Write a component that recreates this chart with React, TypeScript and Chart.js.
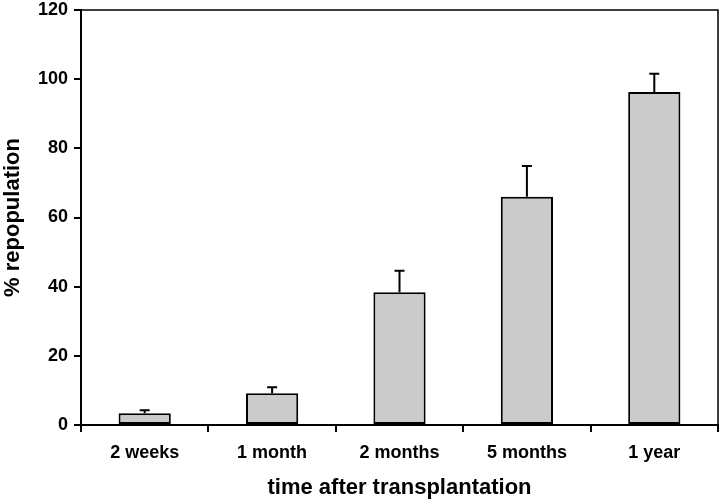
import React, { useEffect, useRef } from "react";
import { Chart, registerables } from "chart.js";

Chart.register(...registerables);

const categories = ["2 weeks", "1 month", "2 months", "5 months", "1 year"];
const repopulation = [3.4, 9.2, 38.4, 66.0, 96.3];
const errorUpper = [0.9, 1.7, 6.2, 8.9, 5.3];
const yTicks = [0, 20, 40, 60, 80, 100, 120];

const FONT = "'Liberation Sans', Arial, sans-serif";

const errorBarPlugin = {
  id: "errorBars",
  afterDatasetsDraw(chart: any) {
    const ctx = chart.ctx;
    const meta = chart.getDatasetMeta(0);
    const y = chart.scales.y;
    ctx.save();
    ctx.strokeStyle = "#000";
    ctx.lineWidth = 2;
    meta.data.forEach((bar: any, i: number) => {
      const x = bar.x;
      const top = y.getPixelForValue(repopulation[i] + errorUpper[i]);
      const base = y.getPixelForValue(repopulation[i]);
      ctx.beginPath();
      ctx.moveTo(x, base);
      ctx.lineTo(x, top);
      ctx.moveTo(x - 5, top);
      ctx.lineTo(x + 5, top);
      ctx.stroke();
    });
    ctx.restore();
  },
};

const framePlugin = {
  id: "frame",
  afterDraw(chart: any) {
    const { ctx, chartArea } = chart;
    ctx.save();
    ctx.strokeStyle = "#000";
    ctx.lineWidth = 1.5;
    ctx.beginPath();
    ctx.moveTo(chartArea.left, chartArea.top);
    ctx.lineTo(chartArea.right, chartArea.top);
    ctx.lineTo(chartArea.right, chartArea.bottom);
    ctx.stroke();
    ctx.restore();
  },
};

export default function App() {
  const ref = useRef<HTMLCanvasElement>(null);
  useEffect(() => {
    if (!ref.current) return;
    const chart = new Chart(ref.current, {
      type: "bar",
      data: {
        labels: categories,
        datasets: [
          {
            data: repopulation,
            backgroundColor: "#cbcbcb",
            borderColor: "#000",
            borderWidth: 2,
            borderSkipped: false,
            barPercentage: 0.41,
            categoryPercentage: 1,
          },
        ],
      },
      options: {
        responsive: false,
        animation: false,
        layout: { padding: { top: 10, right: 2, left: 0, bottom: 0 } },
        plugins: { legend: { display: false }, tooltip: { enabled: false } },
        scales: {
          x: {
            afterFit: (s: any) => {
              s.height = 76;
              s.paddingLeft = 0;
              s.paddingRight = 0;
            },
            grid: { offset: true, drawOnChartArea: false, tickLength: 7, color: "#000", lineWidth: 2 },
            border: { color: "#000", width: 2 },
            ticks: { color: "#000", padding: 10, font: { family: FONT, size: 18, weight: "bold" } },
            title: {
              display: true,
              text: "time after transplantation",
              color: "#000",
              padding: { top: 0, bottom: 0 },
              font: { family: FONT, size: 22, weight: "bold" },
            },
          },
          y: {
            min: 0,
            max: 120,
            afterFit: (s: any) => {
              s.width = 81;
              s.paddingTop = 0;
              s.paddingBottom = 0;
            },
            afterBuildTicks: (s: any) => {
              s.ticks = yTicks.map((v) => ({ value: v }));
            },
            grid: { drawOnChartArea: false, tickLength: 7, color: "#000", lineWidth: 2 },
            border: { color: "#000", width: 2 },
            ticks: { color: "#000", padding: 6, font: { family: FONT, size: 18, weight: "bold" } },
            title: {
              display: true,
              text: "% repopulation",
              color: "#000",
              padding: { top: 0, bottom: 0 },
              font: { family: FONT, size: 22, weight: "bold" },
            },
          },
        },
      },
      plugins: [errorBarPlugin, framePlugin],
    } as any);
    return () => chart.destroy();
  }, []);
  return (
    <div style={{ position: "fixed", left: 0, top: 0, width: 720, height: 501, background: "#fff" }}>
      <canvas ref={ref} width={720} height={501} />
    </div>
  );
}
